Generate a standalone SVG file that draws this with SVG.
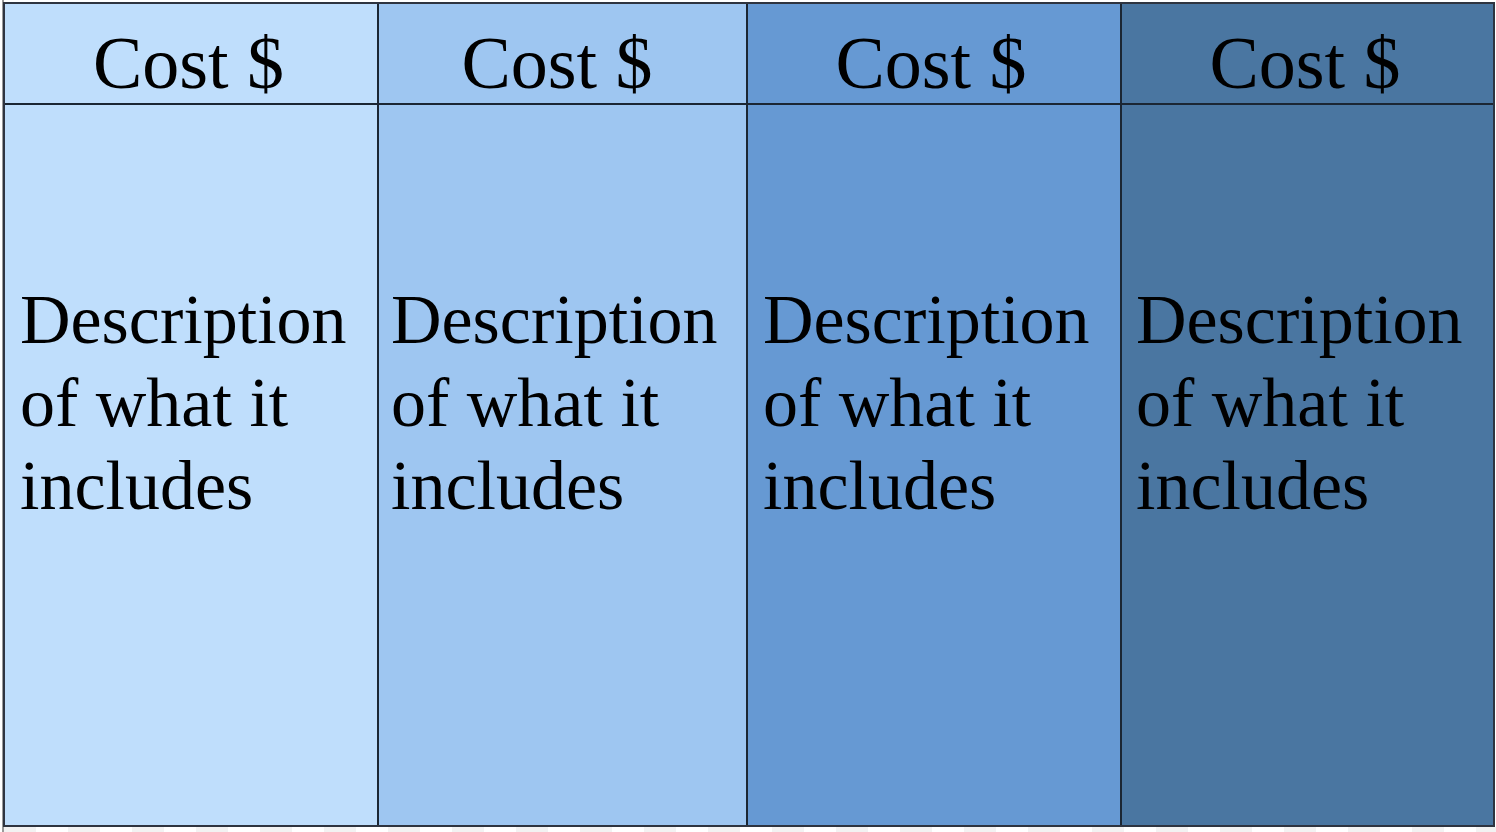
<svg xmlns="http://www.w3.org/2000/svg" width="1496" height="832" viewBox="0 0 1496 832">
<style>
.hd{font-family:"Liberation Serif","Times New Roman",serif;font-size:74px;fill:#000;text-anchor:middle}
.bd{font-family:"Liberation Serif","Times New Roman",serif;font-size:70px;fill:#000}
.ln{stroke:#1b2633;stroke-width:2;fill:none}
</style>
<rect x="0" y="0" width="1496" height="832" fill="#ffffff"/>
<g id="bg-strip" fill="#f2f2f2">
<rect x="4" y="827" width="32" height="5"/><rect x="68" y="827" width="32" height="5"/><rect x="132" y="827" width="32" height="5"/><rect x="196" y="827" width="32" height="5"/><rect x="260" y="827" width="32" height="5"/><rect x="324" y="827" width="32" height="5"/><rect x="388" y="827" width="32" height="5"/><rect x="452" y="827" width="32" height="5"/><rect x="516" y="827" width="32" height="5"/><rect x="580" y="827" width="32" height="5"/><rect x="644" y="827" width="32" height="5"/><rect x="708" y="827" width="32" height="5"/><rect x="772" y="827" width="32" height="5"/><rect x="836" y="827" width="32" height="5"/><rect x="900" y="827" width="32" height="5"/><rect x="964" y="827" width="32" height="5"/><rect x="1028" y="827" width="32" height="5"/><rect x="1092" y="827" width="32" height="5"/><rect x="1156" y="827" width="32" height="5"/><rect x="1220" y="827" width="32" height="5"/><rect x="1284" y="827" width="32" height="5"/><rect x="1348" y="827" width="32" height="5"/><rect x="1412" y="827" width="32" height="5"/><rect x="1476" y="827" width="20" height="5"/>
<rect x="2" y="0" width="2" height="832" fill="#9a9a9a"/>
</g>
<g id="col1">
<rect x="4" y="3" width="374" height="823" fill="#bfdefc"/>
<text class="hd" x="188.5" y="88">Cost $</text>
<text class="bd" x="20" y="343">Description</text>
<text class="bd" x="20" y="426">of what it</text>
<text class="bd" x="20" y="509">includes</text>
</g>
<g id="col2">
<rect x="378" y="3" width="369" height="823" fill="#9ec6f1"/>
<text class="hd" x="557" y="88">Cost $</text>
<text class="bd" x="391" y="343">Description</text>
<text class="bd" x="391" y="426">of what it</text>
<text class="bd" x="391" y="509">includes</text>
</g>
<g id="col3">
<rect x="747" y="3" width="374" height="823" fill="#6699d3"/>
<text class="hd" x="931" y="88">Cost $</text>
<text class="bd" x="763" y="343">Description</text>
<text class="bd" x="763" y="426">of what it</text>
<text class="bd" x="763" y="509">includes</text>
</g>
<g id="col4">
<rect x="1121" y="3" width="373" height="823" fill="#4a76a1"/>
<text class="hd" x="1305" y="88">Cost $</text>
<text class="bd" x="1136" y="343">Description</text>
<text class="bd" x="1136" y="426">of what it</text>
<text class="bd" x="1136" y="509">includes</text>
</g>
<g id="connectors">
<line class="ln" x1="4" y1="104" x2="1494" y2="104"/>
<line class="ln" x1="378" y1="3" x2="378" y2="826"/>
<line class="ln" x1="747" y1="3" x2="747" y2="826"/>
<line class="ln" x1="1121" y1="3" x2="1121" y2="826"/>
<rect x="4" y="3" width="1490" height="823" fill="none" stroke="#2e3440" stroke-width="2"/>
</g>
</svg>
